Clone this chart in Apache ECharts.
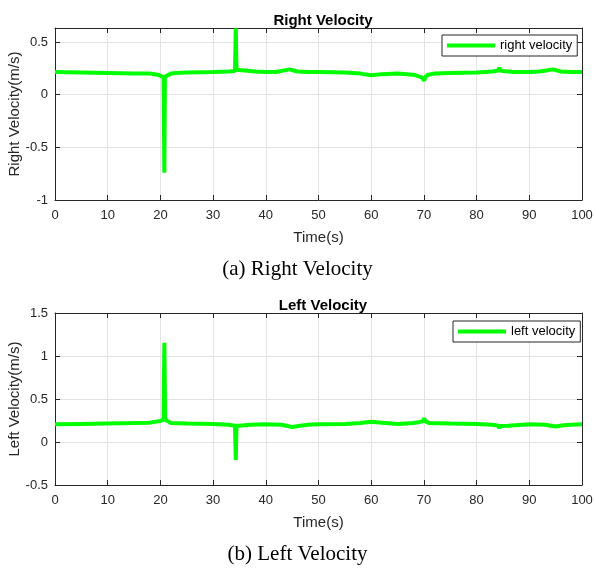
<!DOCTYPE html>
<html><head><meta charset="utf-8">
<script src="https://cdn.jsdelivr.net/npm/echarts@6/dist/echarts.min.js"></script>
<style>html,body{margin:0;padding:0;background:#fff}#c{width:595px;height:568px}</style>
</head><body><div id="c"></div>
<script>
const xTicks = [0,10,20,30,40,50,60,70,80,90,100];
const rightT = [0,5,10,15,18,19.5,20.6,20.7,20.75,20.85,21.2,22,23,25,30,33,34.15,34.3,34.45,35,36,38,40,42,44.5,46,48,50,55,58,60,62,65,68,69.6,70.05,70.3,70.8,72,75,80,83,84.1,84.3,84.5,85,87,90,92,94.5,96,98,100];
const rightV = [0.215,0.21,0.205,0.2,0.2,0.19,0.165,0.16,-0.74,0.17,0.18,0.2,0.205,0.21,0.215,0.22,0.225,0.63,0.235,0.235,0.23,0.22,0.215,0.215,0.24,0.22,0.215,0.215,0.21,0.2,0.185,0.195,0.2,0.19,0.165,0.135,0.17,0.19,0.2,0.205,0.21,0.22,0.23,0.255,0.23,0.225,0.215,0.215,0.22,0.24,0.22,0.215,0.215];
const leftT = [0,5,10,15,18,20,20.6,20.75,20.9,21.2,22,25,30,33,34.15,34.3,34.45,35,37,40,43,45,46.5,48,50,55,58,60,62,65,68,69.8,70.05,70.3,71,75,80,83,84.1,84.3,84.5,86,90,93,95,96.5,98,100];
const leftV = [0.205,0.21,0.215,0.22,0.225,0.245,0.26,1.155,0.26,0.24,0.22,0.215,0.21,0.2,0.19,-0.21,0.19,0.19,0.2,0.205,0.2,0.175,0.19,0.2,0.205,0.21,0.22,0.235,0.225,0.21,0.22,0.24,0.275,0.24,0.22,0.215,0.21,0.2,0.19,0.16,0.185,0.19,0.205,0.2,0.18,0.195,0.2,0.205];
const rightYTicks = [-1,-0.5,0,0.5];
const leftYTicks = [-0.5,0,0.5,1,1.5];

const TXT = '#262626';
const FONT = 'Liberation Sans, Arial, sans-serif';
const GREEN = '#00ff00';

function pairs(t,v){return t.map((x,i)=>[x,v[i]]);}

function xAxes(gi){
  return [{
    type:'value', gridIndex:gi, min:0, max:100, interval:10, position:'bottom',
    name:'Time(s)', nameLocation:'middle', nameGap:30, nameMoveOverlap:false,
    nameTextStyle:{color:TXT,fontSize:15,fontFamily:FONT},
    axisLine:{show:true,onZero:false,lineStyle:{color:TXT,width:1}},
    axisTick:{show:true,inside:true,length:5,lineStyle:{color:TXT}},
    axisLabel:{color:TXT,fontSize:13,fontFamily:FONT,margin:9},
    splitLine:{show:true,lineStyle:{color:'#e3e3e3',width:1}}
  },{
    type:'value', gridIndex:gi, min:0, max:100, interval:10, position:'top',
    axisLine:{show:true,onZero:false,lineStyle:{color:TXT,width:1}},
    axisTick:{show:true,inside:true,length:5,lineStyle:{color:TXT}},
    axisLabel:{show:false}, splitLine:{show:false}
  }];
}
function yAxes(gi,min,max,name,showMax){
  return [{
    type:'value', gridIndex:gi, min:min, max:max, interval:0.5, position:'left',
    name:name, nameLocation:'middle', nameGap:33, nameRotate:90, nameMoveOverlap:false,
    nameTextStyle:{color:TXT,fontSize:15,fontFamily:FONT},
    axisLine:{show:true,onZero:false,lineStyle:{color:TXT,width:1}},
    axisTick:{show:true,inside:true,length:5,lineStyle:{color:TXT}},
    axisLabel:{color:TXT,fontSize:13,fontFamily:FONT,margin:7,showMaxLabel:showMax,
      formatter:v=>String(Math.round(v*100)/100)},
    splitLine:{show:true,lineStyle:{color:'#e3e3e3',width:1}}
  },{
    type:'value', gridIndex:gi, min:min, max:max, interval:0.5, position:'right',
    axisLine:{show:true,onZero:false,lineStyle:{color:TXT,width:1}},
    axisTick:{show:true,inside:true,length:5,lineStyle:{color:TXT}},
    axisLabel:{show:false}, splitLine:{show:false}
  }];
}

const chart = echarts.init(document.getElementById('c'),null,{renderer:'canvas'});
chart.setOption({
  animation:false,
  backgroundColor:'#fff',
  title:[
    {text:'Right Velocity',left:318,top:8,textAlign:'center',textStyle:{color:'#000',fontSize:15,fontWeight:'bold',fontFamily:FONT}},
    {text:'Left Velocity',left:318,top:293,textAlign:'center',textStyle:{color:'#000',fontSize:15,fontWeight:'bold',fontFamily:FONT}}
  ],
  grid:[
    {left:55,top:28,width:527,height:172,containLabel:false,outerBoundsMode:'none'},
    {left:55,top:313,width:527,height:172,containLabel:false,outerBoundsMode:'none'}
  ],
  xAxis:[...xAxes(0),...xAxes(1)],
  yAxis:[...yAxes(0,-1,0.633,'Right Velocity(m/s)',false),...yAxes(1,-0.5,1.5,'Left Velocity(m/s)',true)],
  legend:[
    {data:['right velocity'],left:442,top:35,orient:'horizontal',padding:[4,5],itemWidth:48,itemHeight:4,icon:'rect',
     borderColor:TXT,borderWidth:1,backgroundColor:'#fff',textStyle:{color:'#000',fontSize:13,fontFamily:FONT}},
    {data:['left velocity'],left:453,top:321,orient:'horizontal',padding:[4,5],itemWidth:48,itemHeight:4,icon:'rect',
     borderColor:TXT,borderWidth:1,backgroundColor:'#fff',textStyle:{color:'#000',fontSize:13,fontFamily:FONT}}
  ],
  series:[
    {name:'right velocity',type:'line',xAxisIndex:0,yAxisIndex:0,data:pairs(rightT,rightV),showSymbol:false,
     lineStyle:{color:GREEN,width:4},itemStyle:{color:GREEN},clip:true},
    {name:'left velocity',type:'line',xAxisIndex:2,yAxisIndex:2,data:pairs(leftT,leftV),showSymbol:false,
     lineStyle:{color:GREEN,width:4},itemStyle:{color:GREEN},clip:true}
  ],
  graphic:[
    {type:'text',left:'center',top:259,style:{text:'(a) Right Velocity',font:'21px "Liberation Serif", "Times New Roman", serif',fill:'#000'}},
    {type:'text',left:'center',top:544,style:{text:'(b) Left Velocity',font:'21px "Liberation Serif", "Times New Roman", serif',fill:'#000'}}
  ]
});
</script></body></html>
